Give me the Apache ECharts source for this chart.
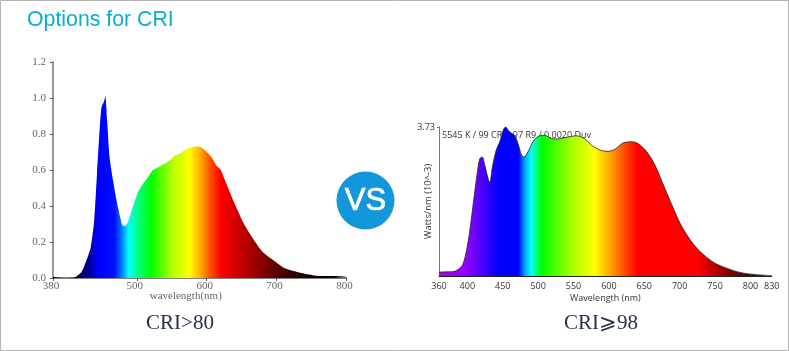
<!DOCTYPE html>
<html><head><meta charset="utf-8">
<style>html,body{margin:0;padding:0;background:#fff}#c{width:789px;height:351px}</style>
<script src="https://cdn.jsdelivr.net/npm/echarts@6/dist/echarts.min.js"></script>
</head><body><div id="c"></div>
<script>
const wlA=[380,395,411,421,429,434,439,443,447,449.5,453,455,457.5,461,466,471,476,480,484,489,495,502,509,516,523,533,542,549,554,561,566,573,585,592,600,607,614,620,628,638,652,666,680,695,709,723,742,761,781,800];
const valA=[.007,0,.004,.035,.11,.17,.32,.58,.84,.95,.98,1.01,.875,.67,.54,.43,.34,.29,.29,.33,.405,.48,.525,.56,.6,.62,.64,.66,.68,.69,.705,.72,.73,.725,.70,.67,.625,.6,.525,.43,.31,.22,.145,.10,.06,.04,.022,.011,.011,.007];
const stopWlA=[380,410,430,445,468,480,488,500,520,550,575,590,605,620,660,700,740,800];
const stopColA=['#000000','#000030','#000090','#0000ff','#0010ff','#0090ff','#00ffff','#00ff90','#00ff00','#b0ff00','#ffff00','#ffb000','#ff5000','#ff0000','#b00000','#5a0000','#150000','#000000'];
const xTicksA=[380,500,600,700,800];

const wlB=[360,380,391.6,397,403,409,414,417.5,421,424.6,428,431.7,435.5,441,446,451,454,459,467,472,476.5,480,486,493,502,509.5,519,528,540,554,566,578,590,599,609,620,632,641.6,653,665,677,689,700.6,715,729,748,767,785,804,830];
const valB=[.10,.11,.23,.485,1.07,1.9,2.57,2.93,2.98,2.78,2.53,2.34,2.74,3.16,3.37,3.66,3.73,3.62,3.51,3.29,3.03,2.98,3.12,3.37,3.51,3.52,3.44,3.43,3.47,3.51,3.43,3.24,3.14,3.12,3.18,3.33,3.36,3.31,3.12,2.78,2.28,1.78,1.32,.9,.61,.34,.19,.09,.04,.01];
const stopWlB=[360,400,420,445,472,482,490,505,550,580,610,640,725,765,830];
const stopColB=['#b000ff','#9000ff','#5000ff','#0000ff','#0000ff','#00b0ff','#00ffff','#00ff00','#b0ff00','#ffff00','#ff8000','#ff0000','#ff0000','#900000','#200000'];
const xTicksB=[360,400,450,500,550,600,650,700,750,800,830];
const yTicksB=[3.73];

const pairs=(x,y)=>x.map((v,i)=>[v,y[i]]);
const grad=(w,c)=>new echarts.graphic.LinearGradient(0,0,1,0,w.map((v,i)=>({offset:(v-w[0])/(w[w.length-1]-w[0]),color:c[i]})));
const serif='"Liberation Serif",serif', sans='"Open Sans",sans-serif';
const chart=echarts.init(document.getElementById('c'),null,{renderer:'canvas'});
chart.setOption({
 animation:false,backgroundColor:'#fff',
 grid:[{left:53,width:293.5,top:62,height:216},{left:439,width:332.7,top:127,height:149}],
 xAxis:[
  {gridIndex:0,type:'value',min:380,max:800,splitLine:{show:false},
   axisLine:{lineStyle:{color:'#555',width:1.5}},
   axisTick:{customValues:xTicksA,length:3,lineStyle:{color:'#555'}},
   axisLabel:{customValues:xTicksA,color:'#666',fontFamily:serif,fontSize:11,margin:3,padding:[0,4,0,0]},
   name:'wavelength(nm)',nameLocation:'middle',nameGap:13,nameMoveOverlap:false,nameTextStyle:{color:'#666',fontFamily:serif,fontSize:11,padding:[0,28,0,0]}},
  {gridIndex:1,type:'value',min:360,max:830,splitLine:{show:false},
   axisLine:{lineStyle:{color:'#222',width:1}},axisTick:{show:false},
   axisLabel:{customValues:xTicksB,color:'#333',fontFamily:sans,fontSize:9,margin:6},
   name:'Wavelength (nm)',nameLocation:'middle',nameGap:18,nameMoveOverlap:false,nameTextStyle:{color:'#333',fontFamily:sans,fontSize:9}}
 ],
 yAxis:[
  {gridIndex:0,type:'value',min:0,max:1.2,interval:.2,splitLine:{show:false},
   axisLine:{show:true,lineStyle:{color:'#777',width:1.5}},
   axisTick:{show:true,length:3,lineStyle:{color:'#555'}},
   axisLabel:{color:'#666',fontFamily:serif,fontSize:11,margin:7,formatter:v=>v.toFixed(1)}},
  {gridIndex:1,type:'value',min:0,max:3.73,splitLine:{show:false},
   axisLine:{show:true,lineStyle:{color:'#777',width:1}},
   axisTick:{show:true,customValues:yTicksB,length:2,lineStyle:{color:'#777'}},
   axisLabel:{customValues:yTicksB,color:'#333',fontFamily:sans,fontSize:9,margin:4,formatter:v=>v.toFixed(2)},
   name:'Watts/nm (10^-3)',nameLocation:'middle',nameGap:6,nameRotate:90,nameMoveOverlap:false,nameTextStyle:{color:'#333',fontFamily:sans,fontSize:9.4}}
 ],
 series:[
  {type:'line',xAxisIndex:0,yAxisIndex:0,data:pairs(wlA,valA),smooth:.2,showSymbol:false,silent:true,
   lineStyle:{width:0},areaStyle:{color:grad(stopWlA,stopColA),opacity:1}},
  {type:'line',xAxisIndex:1,yAxisIndex:1,data:pairs(wlB,valB),smooth:.3,showSymbol:false,silent:true,
   lineStyle:{width:.8,color:'#222'},areaStyle:{color:grad(stopWlB,stopColB),opacity:1}}
 ],
 graphic:[
  {type:'rect',z:0,shape:{x:.5,y:.5,width:788,height:350},style:{fill:'none',stroke:'#b4b4b4',lineWidth:1}},
  {type:'text',z:0,x:27,y:10,style:{text:'Options for CRI',fill:'#0aaed0',font:'21.3px "Liberation Sans",Arial,sans-serif'}},
  {type:'circle',z:5,shape:{cx:365.5,cy:200.5,r:29},style:{fill:'#1296dc'}},
  {type:'text',z:6,x:365.5,y:201,style:{text:'VS',fill:'#fff',stroke:'#fff',lineWidth:.7,font:'31px "Liberation Sans",Arial,sans-serif',align:'center',verticalAlign:'middle'}},
  {type:'text',z:0,x:442,y:131,style:{text:'5545 K / 99 CRI / 97 R9 / 0.0020 Duv',fill:'#333',font:'9px "Open Sans",sans-serif'}},
  {type:'text',z:6,x:180,y:323,style:{text:'CRI>80',fill:'#25304a',font:'21px "Liberation Serif",serif',align:'center',verticalAlign:'middle'}},
  {type:'text',z:6,x:601,y:323,style:{text:'CRI⩾98',fill:'#25304a',font:'21px "Liberation Serif","DejaVu Serif","Noto Sans CJK SC",serif',align:'center',verticalAlign:'middle'}}
 ]
});
</script></body></html>
